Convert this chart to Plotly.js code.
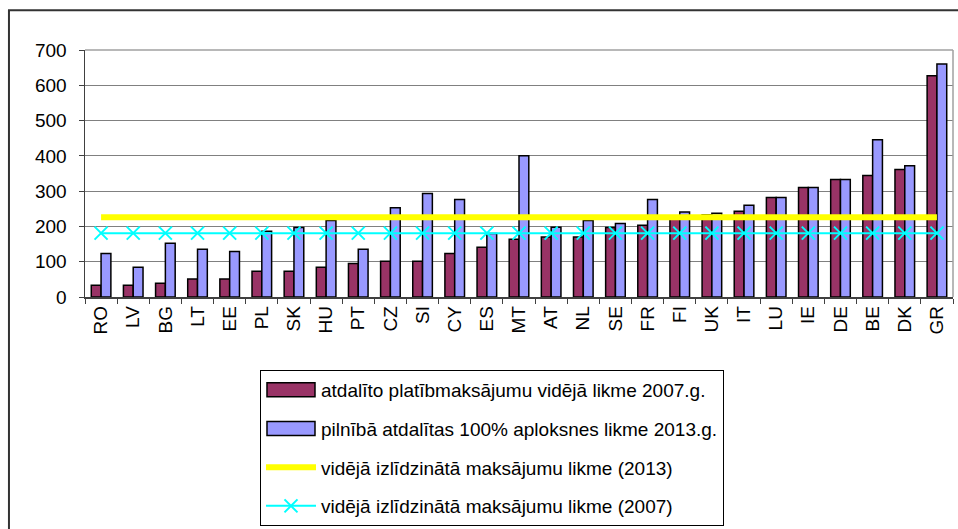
<!DOCTYPE html>
<html>
<head>
<meta charset="utf-8">
<script src="https://cdn.plot.ly/plotly-3.0.1.min.js"></script>
<style>
html,body{margin:0;padding:0;background:#fff;}
#chart{width:958px;height:529px;}
</style>
</head>
<body>
<div id="chart"></div>
<script>
const countries = ["RO","LV","BG","LT","EE","PL","SK","HU","PT","CZ","SI","CY","ES","MT","AT","NL","SE","FR","FI","UK","IT","LU","IE","DE","BE","DK","GR"];
const rate2007 = [33,33,39,51,51,73,73,84,95,101,101,123,141,164,170,170,197,203,222,233,243,282,310,333,344,361,627];
const rate2013 = [123,84,152,135,129,186,197,217,135,253,293,276,180,400,198,217,208,276,241,237,260,282,310,333,446,372,660];
const avg2013 = [226,226,226,226,226,226,226,226,226,226,226,226,226,226,226,226,226,226,226,226,226,226,226,226,226,226,226];
const avg2007 = [181,181,181,181,181,181,181,181,181,181,181,181,181,181,181,181,181,181,181,181,181,181,181,181,181,181,181];
const seriesNames = [
  "atdalīto platībmaksājumu vidējā likme 2007.g.",
  "pilnībā atdalītas 100% aploksnes likme 2013.g.",
  "vidējā izlīdzinātā maksājumu likme (2013)",
  "vidējā izlīdzinātā maksājumu likme (2007)"
];
const yTicks = [0,100,200,300,400,500,600,700];

const FONT = "Liberation Sans, Arial, sans-serif";

const traces = [
  {type:"bar", x:countries, y:rate2007, name:seriesNames[0], legendgroup:"a",
   marker:{color:"#993366", line:{color:"#000", width:1.5}}},
  {type:"bar", x:countries, y:rate2013, name:seriesNames[1], legendgroup:"b",
   marker:{color:"#9999FF", line:{color:"#000", width:1.5}}},
  {type:"scatter", mode:"lines", x:countries, y:avg2013, name:seriesNames[2], legendgroup:"c",
   line:{color:"#FFFF00", width:6}},
  {type:"scatter", mode:"lines+markers", x:countries, y:avg2007, name:seriesNames[3], legendgroup:"d",
   line:{color:"#00FFFF", width:2},
   marker:{symbol:"x-thin", size:13, color:"#00FFFF", line:{color:"#00FFFF", width:2}}}
];

const layout = {
  width:958, height:529,
  margin:{l:85, r:5, t:50, b:231, pad:0},
  paper_bgcolor:"#fff", plot_bgcolor:"#fff",
  font:{family:FONT, size:19, color:"#000"},
  barmode:"group", bargap:0.39, bargroupgap:0,
  showlegend:true,
  legend:{x:0.2016, y:-0.29, xanchor:"left", yanchor:"top",
    bordercolor:"#000", borderwidth:1, bgcolor:"#fff",
    font:{family:FONT, size:19, color:"#000"},
    traceorder:"grouped", tracegroupgap:11, itemwidth:50},
  xaxis:{type:"category", range:[-0.5, countries.length - 0.5], autorange:false,
    tickson:"boundaries", ticks:"outside", ticklen:5, tickcolor:"#404040",
    tickangle:-90, showline:true, linecolor:"#404040", linewidth:1.5, showgrid:false,
    tickfont:{family:FONT, size:19, color:"#000"}, fixedrange:true},
  yaxis:{range:[0,700], autorange:false, tickvals:yTicks, ticktext:yTicks.map(String), ticks:"outside", ticklen:5,
    tickcolor:"#404040", showline:true, linecolor:"#404040", linewidth:1.5,
    showgrid:true, gridcolor:"#808080", gridwidth:1, zeroline:false, ticklabelstandoff:8,
    tickfont:{family:FONT, size:19, color:"#000"}, fixedrange:true},
  shapes:[
    {type:"line", xref:"paper", yref:"paper", x0:1, x1:1, y0:0, y1:1, line:{color:"#a0a0a0", width:1.5}},
    {type:"line", xref:"paper", yref:"paper", x0:0, x1:1, y0:1, y1:1, line:{color:"#a0a0a0", width:1.5}},
    {type:"rect", xref:"paper", yref:"paper", x0:-0.0876, x1:1.2, y0:1.161, y1:-1.5, layer:"below",
     line:{color:"#333", width:2}, fillcolor:"rgba(0,0,0,0)"}
  ]
};

const gd = document.getElementById("chart");

function widenBarSwatches(){
  // widen the bar swatches in the legend to the wide rectangles of the original
  const paths = document.querySelectorAll("#chart .legend .legendpoints path");
  paths.forEach(function(p){
    const d = p.getAttribute("d") || "";
    if (/^M6,6H-6V-6H6Z$/.test(d.replace(/\s/g,"")) || p.classList.contains("legendbar")) {
      p.setAttribute("d", "M-24,7H24V-7H-24Z");
    }
  });
}

Plotly.newPlot(gd, traces, layout, {staticPlot:true, displayModeBar:false}).then(function(){
  widenBarSwatches();
  setTimeout(widenBarSwatches, 0);
  setTimeout(widenBarSwatches, 200);
});
gd.on && gd.on("plotly_afterplot", widenBarSwatches);
</script>
</body>
</html>
